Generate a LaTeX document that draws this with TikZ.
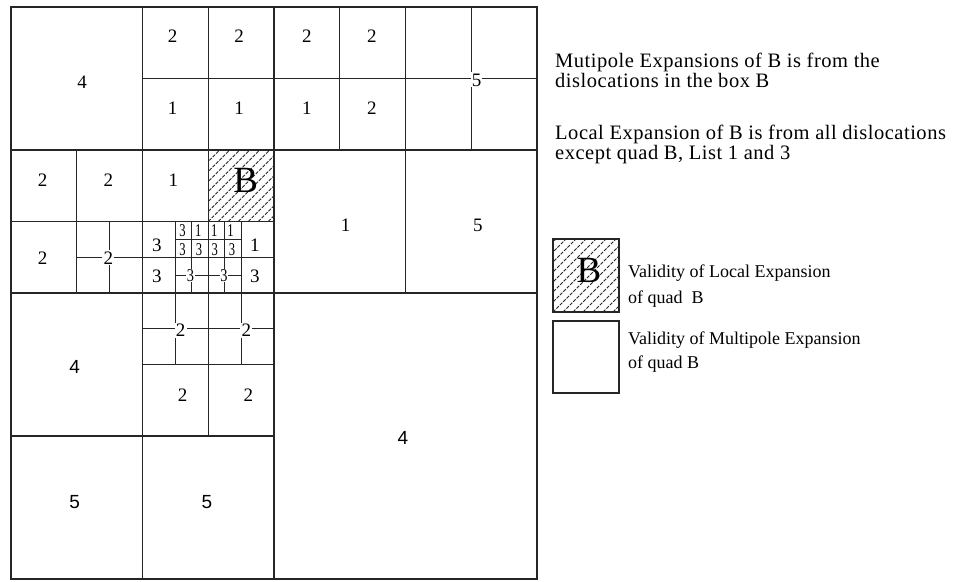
\documentclass[tikz,border=0pt]{standalone}
\usepackage{fontspec}
\setmainfont{Liberation Serif}
\newfontfamily\sansdigits{Liberation Sans}
\newfontfamily\spacedserif[LetterSpace=2.5]{Liberation Serif}
\begin{document}
\begin{tikzpicture}[x=1pt,y=-1pt,
  gridline/.style={line width=1.1pt, draw=black!85},
  hatchline/.style={line width=0.75pt, draw=black!85, dash pattern=on 3.5pt off 1.3pt},
  lab/.style={inner sep=0pt, font=\fontsize{19}{19}\selectfont},
  slab/.style={inner sep=0pt, font=\sansdigits\fontsize{19}{19}\selectfont},
  clab/.style={inner sep=1.2pt, fill=white, font=\fontsize{19}{19}\selectfont},
  tlab/.style={inner sep=0pt, font=\fontsize{18}{18}\selectfont},
  ctlab/.style={inner sep=0.6pt, fill=white, font=\fontsize{18}{18}\selectfont},
  bigb/.style={inner sep=0pt, font=\fontsize{37}{37}\selectfont},
  maintext/.style={inner sep=0pt, anchor=base west, font=\spacedserif\fontsize{20.5}{20.5}\selectfont},
  legtext/.style={inner sep=0pt, anchor=base west, font=\fontsize{18}{18}\selectfont},
  legbox/.style={line width=1.2pt, draw=black!85}
]
\useasboundingbox[fill=white] (0,0) rectangle (958,581);

% hatching of quad B in the grid
\begin{scope}
  \clip (208.25,150) rectangle (274,221.5);
  \foreach \k in {0,10,...,160} \draw[hatchline] (128.25+\k,221.5) -- ++(90,-90);
\end{scope}

% hatching of the legend box
\begin{scope}
  \clip (553,239) rectangle (619,312);
  \foreach \k in {0,10,...,160} \draw[hatchline] (473+\k,312) -- ++(90,-90);
\end{scope}

% quadtree grid
\begin{scope}[shift={(11pt,-7pt)}, x=65.75pt, y=-71.5pt]
  \draw[gridline] (0,0) rectangle (8,8);
  \draw[gridline] (4,0) -- (4,8);
  \draw[gridline] (0,4) -- (8,4);
  \draw[gridline] (2,0) -- (2,8);
  \draw[gridline] (0,2) -- (8,2);
  \draw[gridline] (0,6) -- (4,6);
  \draw[gridline] (6,0) -- (6,4);
  \draw[gridline] (2,1) -- (8,1);
  \draw[gridline] (3,0) -- (3,6);
  \draw[gridline] (5,0) -- (5,2);
  \draw[gridline] (7,0) -- (7,2);
  \draw[gridline] (1,2) -- (1,4);
  \draw[gridline] (0,3) -- (4,3);
  \draw[gridline] (1,3.5) -- (4,3.5);
  \draw[gridline] (1.5,3) -- (1.5,4);
  \draw[gridline] (2.5,3) -- (2.5,5);
  \draw[gridline] (3.5,3) -- (3.5,5);
  \draw[gridline] (2.5,3.25) -- (3.5,3.25);
  \draw[gridline] (2.75,3) -- (2.75,4);
  \draw[gridline] (3.25,3) -- (3.25,4);
  \draw[gridline] (2.5,3.75) -- (3.5,3.75);
  \draw[gridline] (2,4.5) -- (4,4.5);
  \draw[gridline] (2,5) -- (4,5);

  % labels, top-left quadrant
  \node[lab] (a1) at (1.08,1.05) {4};
  \node[lab] (a2) at (2.46,0.41) {2};
  \node[lab] (a3) at (3.47,0.41) {2};
  \node[lab] (a4) at (2.46,1.41) {1};
  \node[lab] (a5) at (3.47,1.41) {1};
  \node[lab] (a6) at (0.48,2.42) {2};
  \node[lab] (a7) at (1.48,2.42) {2};
  \node[lab] (a8) at (2.47,2.42) {1};
  \node[bigb] (bq) at (3.57,2.42) {B};
  \node[lab] (a9) at (0.48,3.51) {2};
  \node[clab] (a10) at (1.48,3.51) {2};
  \node[lab] (a11) at (2.22,3.33) {3};
  \node[lab] (a12) at (2.22,3.76) {3};
  \node[lab] (a13) at (3.71,3.33) {1};
  \node[lab] (a14) at (3.71,3.76) {3};
  \node[tlab] (s1) at (2.61,3.13) {\scalebox{0.7}[1]{3}};
  \node[tlab] (s2) at (2.85,3.13) {\scalebox{0.7}[1]{1}};
  \node[tlab] (s3) at (3.09,3.13) {\scalebox{0.7}[1]{1}};
  \node[tlab] (s4) at (3.34,3.13) {\scalebox{0.7}[1]{1}};
  \node[tlab] (s5) at (2.61,3.39) {\scalebox{0.7}[1]{3}};
  \node[tlab] (s6) at (2.86,3.39) {\scalebox{0.7}[1]{3}};
  \node[tlab] (s7) at (3.10,3.39) {\scalebox{0.7}[1]{3}};
  \node[tlab] (s8) at (3.36,3.39) {\scalebox{0.7}[1]{3}};
  \node[ctlab] (c1) at (2.73,3.76) {\scalebox{0.8}[1]{3}};
  \node[ctlab] (c2) at (3.24,3.76) {\scalebox{0.8}[1]{3}};

  % labels, top-right quadrant
  \node[lab] (b1) at (4.50,0.41) {2};
  \node[lab] (b2) at (5.49,0.41) {2};
  \node[lab] (b3) at (4.50,1.41) {1};
  \node[lab] (b4) at (5.49,1.41) {2};
  \node[clab] (b5) at (7.08,1.02) {5};
  \node[lab] (b6) at (5.09,3.05) {1};
  \node[lab] (b7) at (7.10,3.05) {5};

  % labels, bottom half
  \node[clab] (d1) at (2.58,4.52) {2};
  \node[clab] (d2) at (3.58,4.52) {2};
  \node[lab] (d3) at (2.61,5.43) {2};
  \node[lab] (d4) at (3.61,5.43) {2};
  \node[slab] (d5) at (0.97,5.04) {4};
  \node[slab] (d6) at (0.97,6.92) {5};
  \node[slab] (d7) at (2.98,6.92) {5};
  \node[slab] (d8) at (5.96,6.03) {4};
\end{scope}

% explanatory text
\node[maintext] (t1) at (555,67.5) {Mutipole Expansions of B is from the};
\node[maintext] (t2) at (555,87.5) {dislocations in the box B};
\node[maintext] (t3) at (555,139.5) {Local Expansion of B is from all dislocations};
\node[maintext] (t4) at (555,159.5) {except quad B, List 1 and 3};

% legend
\draw[legbox] (553,239) rectangle (619,312);
\node[bigb] (lb) at (589,270) {B};
\draw[legbox] (553,321) rectangle (619,393);
\node[legtext] (l1) at (628,277) {Validity of Local Expansion};
\node[legtext] (l2) at (628,303) {of quad\ \ B};
\node[legtext] (l3) at (628,344) {Validity of Multipole Expansion};
\node[legtext] (l4) at (628,368) {of quad B};
\end{tikzpicture}
\end{document}
